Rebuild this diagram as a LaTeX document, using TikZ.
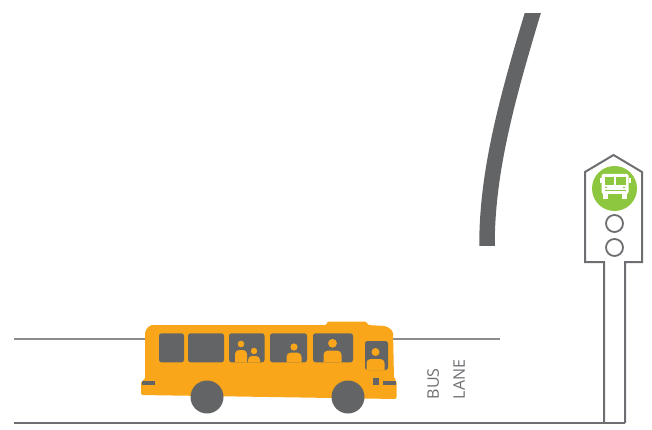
\documentclass[tikz,border=0pt]{standalone}
\usepackage{fontspec}
\newfontfamily\lanefont{Open Sans}
\usepackage{tikz}
\definecolor{busorange}{HTML}{F9A61A}
\definecolor{darkgrey}{HTML}{636466}
\definecolor{roadgrey}{HTML}{6D6E71}
\definecolor{lanegrey}{HTML}{8C8C8C}
\definecolor{stopgreen}{HTML}{8DC63F}
\tikzstyle{road} = [draw=roadgrey, line width=2.6pt]
\tikzstyle{lane} = [draw=lanegrey, line width=1.5pt]
\tikzstyle{window} = [fill=darkgrey, rounded corners=2.5pt]
\tikzstyle{wheel} = [fill=darkgrey]
\tikzstyle{signal} = [draw=roadgrey, line width=2pt, line join=miter]
\tikzstyle{lamp} = [draw=roadgrey, line width=1.8pt]

\begin{document}
\begin{tikzpicture}[x=1pt, y=-1pt]
        \useasboundingbox (0,0) rectangle (652,430);

        % curb curve, cut flat at both ends
        \begin{scope}
                \clip (400,14) rectangle (600,245);
                \draw [darkgrey, line width=15.5pt] (487,255) -- (487,245) .. controls (487,175) and (505,105) .. (532.5,14) -- ++(3,-10);
        \end{scope}

        % lane marking and road edge
        \draw [lane] (14,339) -- (500,339);
        \coordinate (roadstart) at (14,423);
        \coordinate (poleleft) at (604,423);
        \coordinate (poleright) at (625,423);
        \draw [road] (roadstart) -- (poleright);

        % bus stop signal
        \draw [signal] (poleleft) -- (604,262) -- (585,262) -- (585,172) -- (613.5,155)
                -- (642,172) -- (642,262) -- (625,262) -- (poleright);
        \node [circle, fill=stopgreen, minimum size=45pt, inner sep=0pt] (stop) at (614.5,188.5) {};
        \node [circle, lamp, minimum size=17pt, inner sep=0pt] (lamp1) at (614.5,223.5) {};
        \node [circle, lamp, minimum size=17pt, inner sep=0pt] (lamp2) at (614.5,247.5) {};

        % bus icon on the signal
        \fill [white, rounded corners=2pt] (601.5,174) rectangle (628.5,194);
        \fill [white] (599.5,178) rectangle (601.5,183);
        \fill [white] (628.5,178) rectangle (630.5,183);
        \fill [stopgreen] (604.5,177) rectangle (613.5,185.5);
        \fill [stopgreen] (616,177) rectangle (625.5,185.5);
        \fill [stopgreen] (604.5,190.3) rectangle (625.5,191.2);
        \fill [stopgreen] (606,187.3) circle (1);
        \fill [stopgreen] (624,187.3) circle (1);
        \fill [white] (603,194) rectangle (607.5,199);
        \fill [white] (622,194) rectangle (626.5,199);

        % bus body
        \fill [busorange, rounded corners=2pt] (141,395) -- (141,381) -- (145,380) -- (145,331) -- (150,325)
                -- (327,325) -- (327,321.5) -- (367,321.5) -- (367,325) -- (386,326) -- (393,331)
                -- (394,379) -- (396.5,380) -- (396.5,399) -- cycle;

        % windows
        \foreach \a/\b in {159/184, 188/224, 229/264.5, 270/307, 313/353}
                \fill [window] (\a,333.3) rectangle (\b,362.3);
        \fill [window] (365,341) rectangle (388,370);

        % passengers
        \foreach \x/\y/\r/\w/\t/\b in {241/344/3.3/6/350/362.3, 254/351/3.2/6/356/362.3,
                294/347/3.6/7.5/352.7/362.3, 332.5/343.3/4.4/9/350.7/362.3, 375.5/352/4/9/359/370}
        {
                \fill [busorange] (\x,\y) circle (\r);
                \fill [busorange, rounded corners=4pt] (\x-\w,\b) -- (\x-\w,\t) -- (\x+\w,\t) -- (\x+\w,\b);
        }

        % lights
        \fill [darkgrey] (142,380.5) rectangle (155,385);
        \fill [darkgrey] (372.5,377.5) rectangle (378.5,384.5);
        \fill [darkgrey] (383,380.5) rectangle (396,384.5);

        % wheels
        \fill [wheel] (207,397) circle (16.5);
        \fill [wheel] (348,397) circle (16.5);

        % label
        \node [rotate=90, align=left, text=roadgrey, font=\lanefont\fontsize{16}{26}\selectfont] (lanelabel) at (446,379.5) {BUS\\LANE};
    \end{tikzpicture}
\end{document}
